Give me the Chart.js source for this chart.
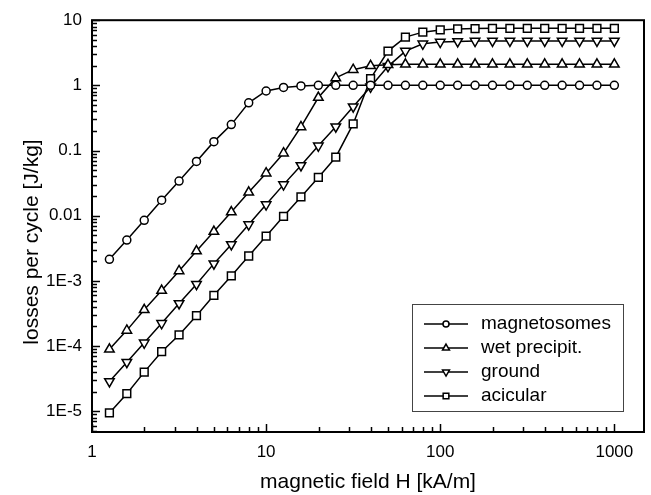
<!DOCTYPE html>
<html>
<head>
<meta charset="utf-8">
<script src="https://cdn.jsdelivr.net/npm/chart.js@4/dist/chart.umd.min.js"></script>
<style>
  html, body { margin: 0; padding: 0; background: #fff; }
  canvas { display: block; }
</style>
</head>
<body>
<canvas id="lossChart" width="651" height="495"></canvas>
<script>
// --- Data ---
const fieldH = [
  1.259, 1.585, 1.995, 2.512, 3.162, 3.981, 5.012, 6.310, 7.943, 10,
  12.59, 15.85, 19.95, 25.12, 31.62, 39.81, 50.12, 63.10, 79.43, 100,
  125.9, 158.5, 199.5, 251.2, 316.2, 398.1, 501.2, 631.0, 794.3, 1000,
];

const magnetosomes = [
  0.00214, 0.00423, 0.0085, 0.0173, 0.034, 0.068, 0.137, 0.25, 0.54, 0.82,
  0.93, 0.98, 1.0, 1.0, 1.0, 1.0, 1.0, 1.0, 1.0, 1.0,
  1.0, 1.0, 1.0, 1.0, 1.0, 1.0, 1.0, 1.0, 1.0, 1.0,
];

const wetPrecipit = [
  8.9e-5, 1.74e-4, 3.6e-4, 7.1e-4, 1.42e-3, 2.87e-3, 5.7e-3, 0.0114, 0.0229, 0.045,
  0.091, 0.23, 0.65, 1.3, 1.74, 2.0, 2.07, 2.1, 2.1, 2.1,
  2.1, 2.1, 2.1, 2.1, 2.1, 2.1, 2.1, 2.1, 2.1, 2.1,
];

const ground = [
  2.87e-5, 5.66e-5, 1.12e-4, 2.23e-4, 4.5e-4, 8.9e-4, 1.84e-3, 3.63e-3, 7.3e-3, 0.0148,
  0.030, 0.059, 0.118, 0.232, 0.47, 0.95, 1.96, 3.36, 4.35, 4.61,
  4.73, 4.78, 4.8, 4.8, 4.8, 4.8, 4.8, 4.8, 4.8, 4.8,
];

const acicular = [
  9.4e-6, 1.86e-5, 3.98e-5, 8.2e-5, 1.48e-4, 2.92e-4, 6.0e-4, 1.19e-3, 2.41e-3, 4.86e-3,
  9.8e-3, 0.0194, 0.0387, 0.079, 0.256, 1.27, 3.36, 5.5, 6.56, 7.1,
  7.36, 7.45, 7.5, 7.5, 7.5, 7.5, 7.5, 7.5, 7.5, 7.5,
];

const seriesNames = ["magnetosomes", "wet precipit.", "ground", "acicular"];

const xTickValues = [1, 10, 100, 1000];
const xTickLabels = ["1", "10", "100", "1000"];
const yTickValues = [1e-5, 1e-4, 1e-3, 0.01, 0.1, 1, 10];
const yTickLabels = ["1E-5", "1E-4", "1E-3", "0.01", "0.1", "1", "10"];

// --- Styling ---
const FONT = "'Liberation Sans', Arial, sans-serif";
const markers = [
  { style: "circle", rotation: 0, radius: 4, legendRadius: 3 },
  { style: "triangle", rotation: 0, radius: 5.5, legendRadius: 4 },
  { style: "triangle", rotation: 180, radius: 5.5, legendRadius: 4 },
  { style: "rect", rotation: 0, radius: 5.5, legendRadius: 4 },
];

function toPoints(values) {
  return values.map((v, i) => ({ x: fieldH[i], y: v }));
}

function makeDataset(label, values, m) {
  return {
    label: label,
    data: toPoints(values),
    borderColor: "#000",
    borderWidth: 1.5,
    tension: 0,
    pointStyle: m.style,
    pointRotation: m.rotation,
    pointRadius: m.radius,
    pointBackgroundColor: "#fff",
    pointBorderColor: "#000",
    pointBorderWidth: 1.5,
  };
}

function labelFor(values, labels, v) {
  for (let i = 0; i < values.length; i++) {
    if (Math.abs(values[i] - v) / values[i] < 1e-6) return labels[i];
  }
  return "";
}

// small marker painter for the legend
function paintMarker(ctx, m, x, y, r) {
  ctx.beginPath();
  if (m.style === "circle") {
    ctx.arc(x, y, r, 0, Math.PI * 2);
  } else if (m.style === "rect") {
    const s = r * Math.SQRT1_2;
    ctx.rect(x - s, y - s, 2 * s, 2 * s);
  } else {
    const dir = m.rotation === 180 ? -1 : 1;
    const h = r * 0.866;
    ctx.moveTo(x, y - dir * r);
    ctx.lineTo(x + h, y + dir * r / 2);
    ctx.lineTo(x - h, y + dir * r / 2);
    ctx.closePath();
  }
  ctx.fillStyle = "#fff";
  ctx.fill();
  ctx.stroke();
}

// frame, inward ticks, y title and legend box
const decorPlugin = {
  id: "decor",
  afterDraw(chart) {
    const ctx = chart.ctx;
    const area = chart.chartArea;
    const xs = chart.scales.x;
    const ys = chart.scales.y;
    ctx.save();
    ctx.strokeStyle = "#000";

    // minor / major ticks
    ctx.lineWidth = 1.5;
    for (let d = -6; d <= 3; d++) {
      for (let m = 1; m <= 9; m++) {
        const v = m * Math.pow(10, d);
        const len = m === 1 ? 8 : 5;
        if (v >= ys.min && v <= ys.max) {
          const py = Math.round(ys.getPixelForValue(v)) + 0.5;
          ctx.beginPath();
          ctx.moveTo(area.left, py);
          ctx.lineTo(area.left + len, py);
          ctx.stroke();
        }
        if (v >= xs.min && v <= xs.max) {
          const px = Math.round(xs.getPixelForValue(v)) + 0.5;
          ctx.beginPath();
          ctx.moveTo(px, area.bottom);
          ctx.lineTo(px, area.bottom - len);
          ctx.stroke();
        }
      }
    }

    // plot frame
    ctx.lineWidth = 2;
    ctx.strokeRect(area.left, area.top, area.right - area.left, area.bottom - area.top);

    // y axis title
    ctx.fillStyle = "#000";
    ctx.font = "21px " + FONT;
    ctx.textAlign = "center";
    ctx.textBaseline = "middle";
    ctx.save();
    ctx.translate(32, 242);
    ctx.rotate(-Math.PI / 2);
    ctx.fillText("losses per cycle [J/kg]", 0, 0);
    ctx.restore();

    // legend
    ctx.lineWidth = 1;
    ctx.strokeStyle = "#444";
    ctx.strokeRect(412.5, 304.5, 211, 107);
    ctx.strokeStyle = "#000";
    ctx.font = "19px " + FONT;
    ctx.textAlign = "left";
    seriesNames.forEach((name, i) => {
      const ly = 324 + 24 * i;
      ctx.lineWidth = 1.5;
      ctx.beginPath();
      ctx.moveTo(424, ly);
      ctx.lineTo(468, ly);
      ctx.stroke();
      paintMarker(ctx, markers[i], 446, ly, markers[i].legendRadius);
      ctx.fillStyle = "#000";
      ctx.fillText(name, 481, ly);
    });
    ctx.restore();
  },
};

const chart = new Chart(document.getElementById("lossChart").getContext("2d"), {
  type: "line",
  data: {
    datasets: [
      makeDataset(seriesNames[0], magnetosomes, markers[0]),
      makeDataset(seriesNames[1], wetPrecipit, markers[1]),
      makeDataset(seriesNames[2], ground, markers[2]),
      makeDataset(seriesNames[3], acicular, markers[3]),
    ],
  },
  options: {
    responsive: false,
    animation: false,
    layout: { padding: { top: 17, right: 4, left: 0, bottom: 0 } },
    plugins: { legend: { display: false }, tooltip: { enabled: false } },
    scales: {
      x: {
        type: "logarithmic",
        position: "bottom",
        min: 1,
        max: 1480,
        afterBuildTicks: (s) => { s.ticks = xTickValues.map((v) => ({ value: v })); },
        afterFit: (s) => { s.height = 63; },
        grid: { display: false, drawTicks: false },
        border: { display: false },
        ticks: {
          padding: 10,
          autoSkip: false,
          maxRotation: 0,
          color: "#000",
          font: { family: FONT, size: 17 },
          callback: (v) => labelFor(xTickValues, xTickLabels, v),
        },
        title: {
          display: true,
          text: "magnetic field H [kA/m]",
          color: "#000",
          font: { family: FONT, size: 21 },
          padding: { top: 0, bottom: 0 },
        },
      },
      y: {
        type: "logarithmic",
        position: "left",
        min: 4.8e-6,
        max: 10,
        afterBuildTicks: (s) => { s.ticks = yTickValues.map((v) => ({ value: v })); },
        afterFit: (s) => { s.width = 92; },
        grid: { display: false, drawTicks: false },
        border: { display: false },
        ticks: {
          padding: 10,
          autoSkip: false,
          color: "#000",
          font: { family: FONT, size: 17 },
          callback: (v) => labelFor(yTickValues, yTickLabels, v),
        },
      },
    },
  },
  plugins: [decorPlugin],
});
</script>
</body>
</html>
